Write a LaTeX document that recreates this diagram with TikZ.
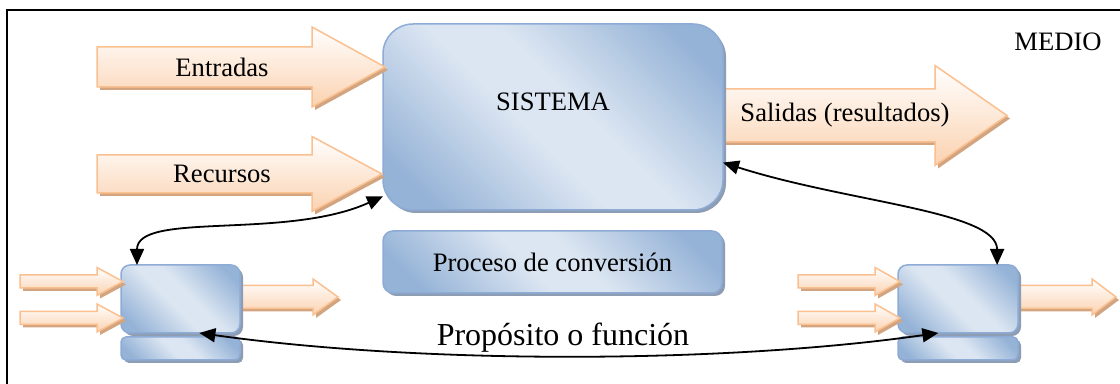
\documentclass[tikz,border=0pt]{standalone}
\usepackage{fontspec}
\setmainfont{Liberation Serif}
\usetikzlibrary{arrows.meta,shadows}

\definecolor{azuloscuro}{HTML}{95B3D7}
\definecolor{azulclaro}{HTML}{DCE6F2}
\definecolor{azulborde}{HTML}{8EABD6}
\definecolor{sombraazul}{HTML}{8D9DB4}
\definecolor{naranjaborde}{HTML}{FAC090}
\definecolor{naranjafondo}{HTML}{FBD2B0}
\definecolor{sombranaranja}{HTML}{D2A47F}

\pgfdeclarehorizontalshading{sistemashade}{100bp}{color(0bp)=(azuloscuro); color(22bp)=(azuloscuro); color(45bp)=(azulclaro); color(55bp)=(azulclaro); color(78bp)=(azuloscuro); color(100bp)=(azuloscuro)}

\tikzset{
  sistema/.style={shade, shading=sistemashade, shading angle=45, draw=azulborde, line width=0.75pt,
    inner sep=2pt, outer sep=0pt,
    drop shadow={fill=sombraazul, opacity=1, shadow xshift=1.5pt, shadow yshift=-1.5pt}},
  flechaestilo/.style={top color=white, bottom color=naranjafondo, draw=naranjaborde, line width=0.75pt,
    drop shadow={fill=sombranaranja, opacity=1, shadow xshift=1.5pt, shadow yshift=-1.5pt}},
  conector/.style={{Triangle[length=8pt,width=7pt]}-{Triangle[length=8pt,width=7pt]}, line width=0.9pt}
}

% tail, head start, tip, y, shaft half, head half
\newcommand{\flecha}[6]{%
  \path[flechaestilo] (#1,{#4+#5}) -- (#2,{#4+#5}) -- (#2,{#4+#6}) -- (#3,#4) -- (#2,{#4-#6}) -- (#2,{#4-#5}) -- (#1,{#4-#5}) -- cycle;}

\begin{document}
\begin{tikzpicture}[x=0.5pt,y=0.5pt,font=\fontsize{13.3}{16}\selectfont]
	\useasboundingbox (0,0) rectangle (1120,384);
	\fill[white] (0,0) rectangle (1120,384);
	\draw[line width=0.8pt] (7,-10) rectangle (1130,374);

	% salidas
	\flecha{715}{935}{1007}{268.5}{26.5}{50}
	\flecha{232}{313}{338}{87}{11.5}{18}
	\flecha{1010}{1092}{1116}{87}{11.5}{18}

	% sistemas
	\node[sistema,minimum width=170pt,minimum height=93pt,rounded corners=15pt] (sistema) at (553,267) {};
	\node[sistema,minimum width=169.5pt,minimum height=31pt,rounded corners=5pt] (proceso) at (552.5,122) {Proceso de conversión};
	\node[sistema,minimum width=59.5pt,minimum height=34pt,rounded corners=4.5pt] (sisL) at (180.5,85) {};
	\node[sistema,minimum width=59.5pt,minimum height=11.5pt,rounded corners=2.5pt] (procL) at (180.5,35.5) {};
	\node[sistema,minimum width=60pt,minimum height=34pt,rounded corners=4.5pt] (sisR) at (958,85) {};
	\node[sistema,minimum width=60pt,minimum height=11.5pt,rounded corners=2.5pt] (procR) at (958,35.5) {};

	% entradas
	\flecha{97}{312}{385}{317}{20}{40}
	\flecha{97}{312}{382}{210}{19}{37.5}
	\flecha{20}{97}{123}{102.5}{6.5}{14}
	\flecha{20}{97}{123}{66}{6.5}{14}
	\flecha{798}{875}{900}{102.5}{6.5}{14}
	\flecha{798}{875}{900}{66}{6.5}{14}

	\node (entradas) at (222,317) {Entradas};
	\node (recursos) at (222,210) {Recursos};
	\node (salidas) at (845,269) {Salidas (resultados)};
	\node (sistxt) at ([yshift=7.5pt]sistema.center) {SISTEMA};
	\node (medio) at (1058,342) {MEDIO};
	\node[font=\fontsize{16}{19}\selectfont] (proposito) at (563,46) {Propósito o función};

	\draw[conector] (sisL.142) .. controls +(0,54) and +(-97,-44) .. (sistema.-155);
	\draw[conector] (sistema.-15) .. controls +(125,-40) and +(0,54) .. (sisR.41);
	\draw[conector] (sisL.-61) .. controls +(220,-31) and +(-218,-31) .. (sisR.-120);
\end{tikzpicture}
\end{document}
